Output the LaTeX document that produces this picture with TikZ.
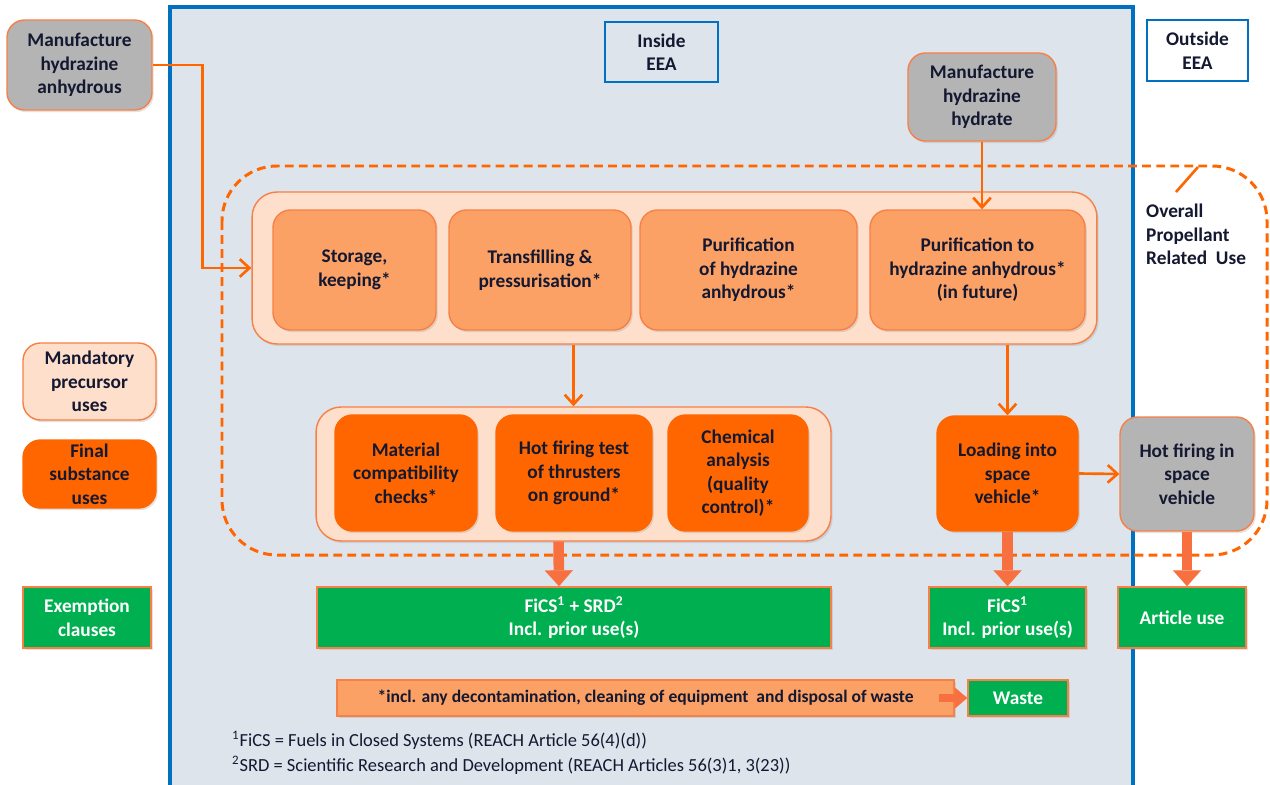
\documentclass[tikz,border=0pt]{standalone}
\usepackage{fontspec}
\setmainfont{Carlito}
\usepackage{xcolor}
\usepackage{tikz}
\usetikzlibrary{positioning,arrows.meta,shadows}
\definecolor{PageBlue}{RGB}{221,228,236}
\definecolor{FrameBlue}{RGB}{0,112,192}
\definecolor{LineOrange}{RGB}{255,102,0}
\definecolor{BorderOrange}{RGB}{247,128,70}
\definecolor{PeachFill}{RGB}{253,223,203}
\definecolor{MidOrange}{RGB}{251,161,101}
\definecolor{DeepOrange}{RGB}{255,102,0}
\definecolor{SrcGrey}{RGB}{180,180,180}
\definecolor{ExGreen}{RGB}{0,176,80}
\definecolor{FatOrange}{RGB}{248,112,64}
\definecolor{TextNavy}{RGB}{20,24,48}

\begin{document}
\begin{tikzpicture}[x=0.02cm,y=-0.02cm,
base/.style={rectangle,rounded corners=3.5mm,draw=BorderOrange,line width=0.8pt,align=center,inner sep=2pt,font=\fontsize{11}{13.4}\selectfont\bfseries,text=TextNavy,drop shadow={opacity=0.22,shadow xshift=1pt,shadow yshift=-1.2pt}},
srcbox/.style={base,fill=SrcGrey},
precbox/.style={base,fill=MidOrange},
finalbox/.style={base,fill=DeepOrange,draw=DeepOrange},
legbox/.style={base,fill=PeachFill},
container/.style={rectangle,rounded corners=5mm,draw=BorderOrange,line width=0.8pt,fill=PeachFill,drop shadow={opacity=0.2,shadow xshift=1pt,shadow yshift=-1.2pt}},
greenbox/.style={base,rounded corners=0pt,fill=ExGreen,draw=BorderOrange,line width=1pt,text=white},
eeabox/.style={rectangle,draw=FrameBlue,line width=0.9pt,align=center,font=\fontsize{11}{13.4}\selectfont\bfseries,text=TextNavy},
arrow/.style={-{Straight Barb[length=5.5pt,width=10pt]},line width=1.5pt,draw=LineOrange},
fat/.style={-{Triangle[length=9pt,width=16pt,line width=0.1pt]},line width=6pt,draw=FatOrange},
note/.style={font=\fontsize{10.5}{12}\selectfont,text=TextNavy,anchor=west}
]
\clip (0,0) rectangle (1270,784);
\fill[white] (0,0) rectangle (1270,784);
% inside EEA area
\draw[FrameBlue,line width=2.4pt,fill=PageBlue] (170,7) rectangle (1133,810);
\node[eeabox,fill=PageBlue,minimum width=2.26cm,minimum height=1.2cm] (inside) at (661.5,52) {Inside\\EEA};
\node[eeabox,fill=white,minimum width=2.02cm,minimum height=1.22cm] (outside) at (1197.5,50.5) {Outside\\EEA};

% overall propellant related use
\draw[LineOrange,line width=1.7pt,dash pattern=on 5pt off 3pt,rounded corners=1.1cm] (222,166) rectangle (1267,555);
\node[align=left,anchor=north west,font=\fontsize{11}{13.4}\selectfont\bfseries,text=TextNavy] (overall) at (1140,198) {Overall\\Propellant\\Related\ \ Use};
\coordinate (ptrA) at (1176,192);
\coordinate (ptrB) at (1198,167);
\draw[LineOrange,line width=1.5pt] (ptrA) -- (ptrB);

% manufacture
\node[srcbox,minimum width=2.9cm,minimum height=1.8cm] (anhyd) at (79.5,65) {Manufacture\\hydrazine\\anhydrous};
\node[srcbox,minimum width=2.96cm,minimum height=1.76cm] (hydrate) at (982,97) {Manufacture\\hydrazine\\hydrate};

% mandatory precursor uses
\node[container,minimum width=16.9cm,minimum height=3.04cm] (upper) at (674.5,268) {};
\node[precbox,minimum width=3.26cm,minimum height=2.4cm] (store) at (354.5,270) {Storage,\\keeping*};
\node[precbox,minimum width=3.64cm,minimum height=2.4cm] (trans) at (540,270) {Transfilling \&\\pressurisation*};
\node[precbox,minimum width=4.34cm,minimum height=2.4cm] (purif) at (748.5,270) {Purification\\of hydrazine\\anhydrous*};
\node[precbox,minimum width=4.3cm,minimum height=2.4cm] (purto) at (977.5,270) {Purification to\\hydrazine anhydrous*\\(in future)};

% final substance uses
\node[container,minimum width=10.3cm,minimum height=2.68cm] (lower) at (573.5,474) {};
\node[finalbox,minimum width=2.84cm,minimum height=2.32cm] (matcheck) at (406,473) {Material\\compatibility\\checks*};
\node[finalbox,minimum width=3.12cm,minimum height=2.32cm] (hottest) at (574,473) {Hot firing test\\of thrusters\\on ground*};
\node[finalbox,minimum width=2.8cm,minimum height=2.32cm] (chem) at (738,473) {Chemical\\analysis\\(quality\\control)*};
\node[finalbox,minimum width=2.82cm,minimum height=2.3cm] (loading) at (1007.5,473.5) {Loading into\\space\\vehicle*};
\node[srcbox,minimum width=2.68cm,minimum height=2.28cm] (hotspace) at (1187,474) {Hot firing in\\space\\vehicle};

% exemptions
\node[greenbox,minimum width=10.28cm,minimum height=1.22cm] (fsrd) at (574,617.5) {FiCS\textsuperscript{1} + SRD\textsuperscript{2}\\Incl. prior use(s)};
\node[greenbox,minimum width=3.14cm,minimum height=1.22cm] (fics) at (1007.5,617.5) {FiCS\textsuperscript{1}\\Incl. prior use(s)};
\node[greenbox,minimum width=2.56cm,minimum height=1.22cm] (article) at (1182,617.5) {Article use};
\node[greenbox,rounded corners=0pt,fill=MidOrange,text=TextNavy,font=\fontsize{10}{12}\selectfont\bfseries,minimum width=12.34cm,minimum height=0.72cm] (decon) at (645.5,698) {*incl. any decontamination, cleaning of equipment\ \ and disposal of waste};
\node[greenbox,minimum width=2cm,minimum height=0.72cm] (waste) at (1018,698) {Waste};

% legend
\node[legbox,minimum width=2.66cm,minimum height=1.54cm] (legprec) at (89.5,381.5) {Mandatory\\precursor\\uses};
\node[finalbox,minimum width=2.66cm,minimum height=1.36cm] (legfinal) at (89.5,474) {Final\\substance\\uses};
\node[greenbox,minimum width=2.56cm,minimum height=1.22cm] (legex) at (87,617.5) {Exemption\\clauses};

% footnotes
\node[note] (fn1) at (226,740) {\textsuperscript{1}FiCS = Fuels in Closed Systems (REACH Article 56(4)(d))};
\node[note] (fn2) at (226,765) {\textsuperscript{2}SRD = Scientific Research and Development (REACH Articles 56(3)1, 3(23))};

\draw[arrow] (anhyd.east) -- ++(50,0) |- (upper.west);
\draw[arrow] (hydrate.south) -- (hydrate.south |- purto.north);
\draw[arrow] (lower.north |- upper.south) -- (lower.north);
\draw[arrow] (loading.north |- upper.south) -- (loading.north);
\draw[arrow] (loading.east) -- (hotspace.west);
\draw[fat] ([xshift=-0.3cm]lower.south) -- ([xshift=-0.3cm]fsrd.north);
\draw[fat] (loading.south) -- (fics.north);
\draw[fat] (hotspace.south) -- (hotspace.south |- article.north);
\draw[fat,line width=4pt,-{Triangle[length=7pt,width=12pt,line width=0.1pt]},shorten <=-9pt] (decon.east) -- (waste.west);
\end{tikzpicture}
\end{document}
